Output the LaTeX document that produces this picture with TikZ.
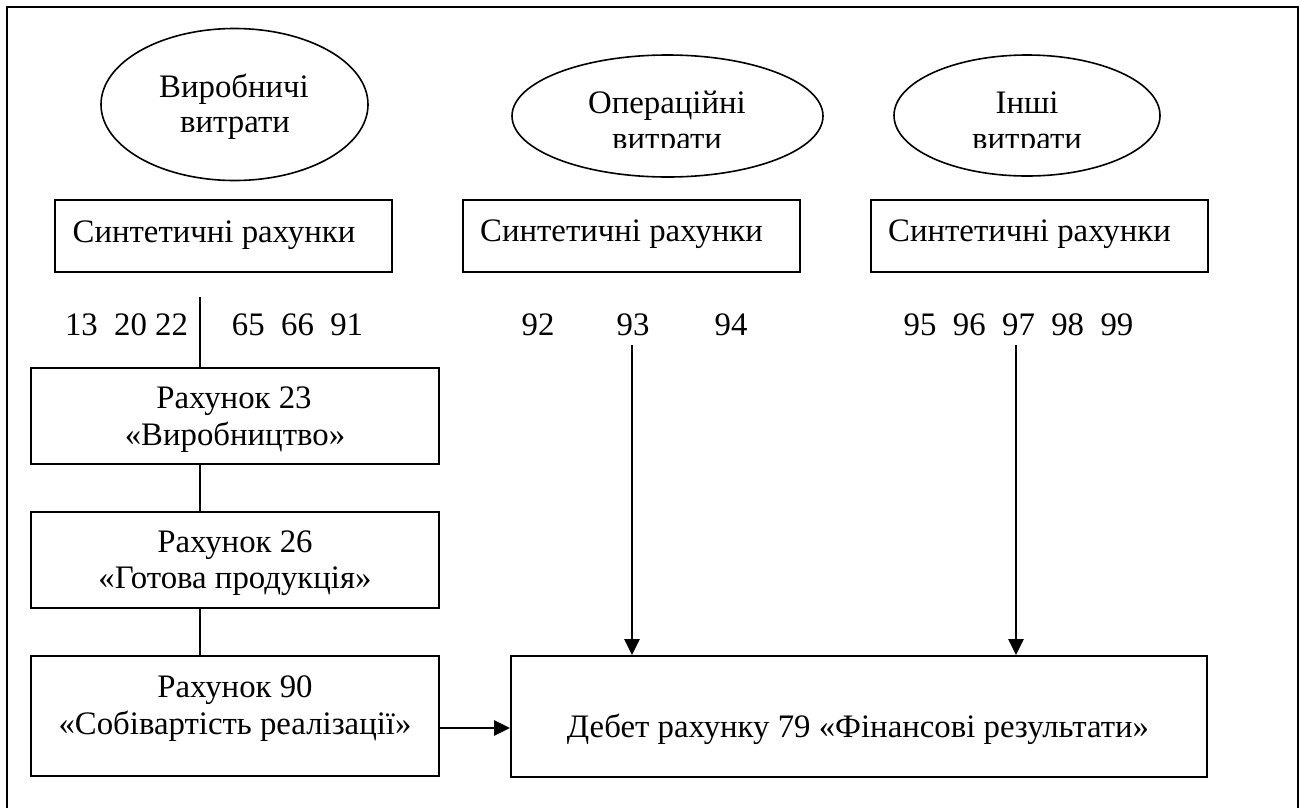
\documentclass[tikz,border=0pt]{standalone}
\usepackage{fontspec}
\setmainfont{Liberation Serif}
\usetikzlibrary{shapes.geometric,arrows.meta}
\begin{document}
\begin{tikzpicture}[x=1pt,y=-1pt,
  box/.style={draw,line width=2pt,rectangle,inner sep=0pt},
  ell/.style={draw,ellipse,line width=1.6pt,inner sep=0pt},
  txt/.style={inner sep=0pt,anchor=base,font=\fontsize{32.8}{36}\selectfont},
  ln/.style={line width=1.8pt},
  arr/.style={line width=2.8pt,-{Triangle[length=16pt,width=15pt]}}]
\useasboundingbox (0,0) rectangle (1301,807);
% outer frame (open at the bottom of the picture)
\draw[line width=2pt] (7,830) -- (7,7) -- (1298,7) -- (1298,830);

% ellipses
\node[ell,minimum width=267pt,minimum height=152pt] (e1) at (234.5,104.5) {};
\node[ell,minimum width=311pt,minimum height=122pt] (e2) at (667.5,116) {};
\node[ell,minimum width=266pt,minimum height=121pt] (e3) at (1027,115.5) {};
\node[txt] (e1a) at (234,97) {Виробничі};
\node[txt] (e1b) at (235,132) {витрати};
\node[txt] (e2a) at (667,113) {Операційні};
\node[txt] (e3a) at (1027,113) {Інші};
\begin{scope}
  \clip (480,120) rectangle (1180,147.5);
  \node[txt] (e2b) at (667,149) {витрати};
  \node[txt] (e3b) at (1027,149) {витрати};
\end{scope}

% synthetic account boxes
\node[box,minimum width=337pt,minimum height=72pt] (s1) at (223.5,236) {};
\node[box,minimum width=337pt,minimum height=72pt] (s2) at (631.5,236) {};
\node[box,minimum width=337pt,minimum height=72pt] (s3) at (1039.5,236) {};
\node[txt] (s1t) at (214,242) {Синтетичні рахунки};
\node[txt] (s2t) at (621.5,241) {Синтетичні рахунки};
\node[txt] (s3t) at (1029.5,241) {Синтетичні рахунки};

% account numbers
\node[txt] (n1) at (126.5,335) {13\ \ 20 22};
\node[txt] (n2) at (297.5,335) {65\ \ 66\ \ 91};
\node[txt] (n92) at (538,335) {92};
\node[txt] (n93) at (633,335) {93};
\node[txt] (n94) at (731,335) {94};
\node[txt] (n95) at (1018.5,335) {95\ \ 96\ \ 97\ \ 98\ \ 99};

% left column boxes
\node[box,minimum width=408pt,minimum height=96pt] (r23) at (235,416) {};
\node[box,minimum width=408pt,minimum height=96pt] (r26) at (235,560) {};
\node[box,minimum width=408pt,minimum height=120pt] (r90) at (235,716) {};
\node[txt] (r23a) at (234,408) {Рахунок 23};
\node[txt] (r23b) at (235,445) {«Виробництво»};
\node[txt] (r26a) at (235,552) {Рахунок 26};
\node[txt] (r26b) at (235,588) {«Готова продукція»};
\node[txt] (r90a) at (235,697) {Рахунок 90};
\node[txt] (r90b) at (235,734) {«Собівартість реалізації»};

% debit box
\node[box,minimum width=696pt,minimum height=121pt] (deb) at (859,716.5) {};
\node[txt] (debt) at (858,737) {Дебет рахунку 79 «Фінансові результати»};

% connectors
\coordinate (split) at (200,297);
\coordinate (a93) at (632,345);
\coordinate (a97) at (1016,345);
\draw[ln] (split) -- (split |- r23.north);
\draw[ln] (r23.south -| split) -- (r26.north -| split);
\draw[ln] (r26.south -| split) -- (r90.north -| split);
\draw[arr] (a93) -- (a93 |- deb.north);
\draw[arr] (a97) -- (a97 |- deb.north);
\draw[arr] (r90.east |- 0,728) -- (deb.west |- 0,728);
\end{tikzpicture}
\end{document}
